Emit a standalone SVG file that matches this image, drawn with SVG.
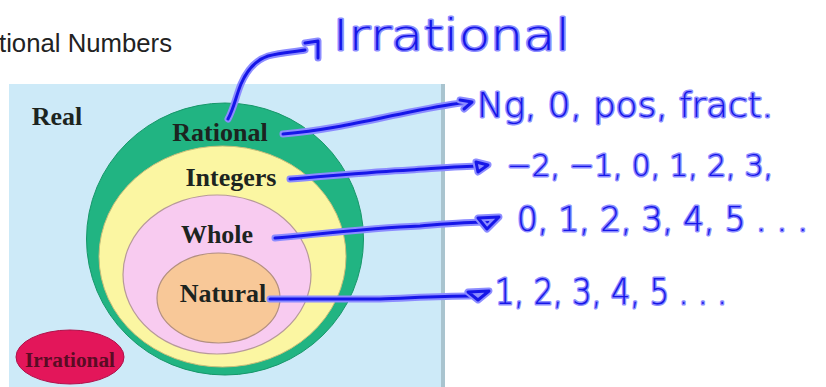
<svg xmlns="http://www.w3.org/2000/svg" width="826" height="387" viewBox="0 0 826 387">
<defs>
<style>
.lbl{font-family:"Liberation Serif","Times New Roman",serif;font-weight:bold;font-size:26px;fill:#1c2420;text-anchor:middle}
.hand{font-family:"DejaVu Sans","Noto Sans",sans-serif;font-weight:200;fill:#1616e8;stroke:#8c8cff;stroke-width:3;stroke-linejoin:round;paint-order:stroke}
.glow{fill:none;stroke:#8c8cff;stroke-width:7;stroke-linecap:round;stroke-linejoin:round}
.ink{fill:none;stroke:#1616e8;stroke-width:3;stroke-linecap:round;stroke-linejoin:round}
</style>
<path id="c-irr" d="M228,119 C234,108 236,96 241,84 C247,70 256,60 268,56 C282,52 294,52 305,50 M305,43 L318,41 L318,58"/>
<path id="c-rat" d="M283,134 C330,130 370,120 410,112 C430,108 450,104 470,102"/>
<path id="a-rat" d="M460,100 L472,102 L464,109"/>
<path id="c-int" d="M290,179 C330,176 370,172 410,170 C440,168 460,166 482,166"/>
<path id="a-int" d="M476,162 L488,165 L478,172 Z"/>
<path id="c-who" d="M275,238 C320,234 370,228 420,226 C445,224 465,222 488,222"/>
<path id="a-who" d="M478,218 L499,217 L487,229 Z"/>
<path id="c-nat" d="M270,299 L380,299 C410,298 440,296 470,296"/>
<path id="a-nat" d="M468,292 L489,291 L478,300 Z"/>
</defs>
<rect width="826" height="387" fill="#ffffff"/>
<text x="-1" y="52" font-family="Liberation Sans, Arial, sans-serif" font-size="25.5" fill="#222" textLength="173" lengthAdjust="spacingAndGlyphs">tional Numbers</text>
<g id="real">
<rect x="9" y="84" width="436" height="310" fill="#cdeaf8"/>
<rect x="441" y="84" width="4" height="310" fill="#a9c4cf"/>
<text class="lbl" x="57" y="125">Real</text>
</g>
<g id="rational">
<ellipse cx="225" cy="239" rx="138.5" ry="136" fill="#21b482" stroke="#17976a" stroke-width="1"/>
<text class="lbl" x="220" y="141" fill="#0e3a2a">Rational</text>
</g>
<g id="integers">
<ellipse cx="222.5" cy="256.5" rx="123.5" ry="110.5" fill="#fbf6a2" stroke="#c9be7a" stroke-width="1"/>
<text class="lbl" x="231" y="186">Integers</text>
</g>
<g id="whole">
<ellipse cx="217" cy="274.5" rx="94" ry="79.5" fill="#f8cbf0" stroke="#b79a9a" stroke-width="1.2"/>
<text class="lbl" x="217" y="243">Whole</text>
</g>
<g id="natural">
<ellipse cx="218.5" cy="298" rx="61.5" ry="45" fill="#f8c898" stroke="#b39080" stroke-width="1.2"/>
<text class="lbl" x="223" y="302">Natural</text>
</g>
<g id="irrational">
<ellipse cx="70" cy="357" rx="54" ry="27" fill="#e3165a" stroke="#b0104a" stroke-width="1"/>
<text class="lbl" x="70" y="367" style="font-size:20px;fill:#5a0c24" textLength="90" lengthAdjust="spacingAndGlyphs">Irrational</text>
</g>
<g id="connectors">
<use href="#c-irr" class="glow"/><use href="#c-irr" class="ink"/>
<use href="#c-rat" class="glow"/><use href="#c-rat" class="ink"/>
<use href="#a-rat" class="glow"/><use href="#a-rat" class="ink"/>
<use href="#c-int" class="glow"/><use href="#c-int" class="ink"/>
<use href="#a-int" class="glow"/><use href="#a-int" class="ink"/>
<use href="#c-who" class="glow"/><use href="#c-who" class="ink"/>
<use href="#a-who" class="glow"/><use href="#a-who" class="ink"/>
<use href="#c-nat" class="glow"/><use href="#c-nat" class="ink"/>
<use href="#a-nat" class="glow"/><use href="#a-nat" class="ink"/>
</g>
<g id="notes">
<text class="hand" x="333" y="50" font-size="42" textLength="237" lengthAdjust="spacingAndGlyphs">Irrational</text>
<text class="hand" x="477" y="117" font-size="34" textLength="296" lengthAdjust="spacingAndGlyphs">Ng, 0, pos, fract.</text>
<text class="hand" x="507" y="176" font-size="31" textLength="266" lengthAdjust="spacingAndGlyphs">−2, −1, 0, 1, 2, 3,</text>
<text class="hand" x="517" y="231" font-size="33" textLength="291" lengthAdjust="spacingAndGlyphs">0, 1, 2, 3, 4, 5 . . .</text>
<text class="hand" x="495" y="304" font-size="35" textLength="232" lengthAdjust="spacingAndGlyphs">1, 2, 3, 4, 5 . . .</text>
</g>
</svg>
